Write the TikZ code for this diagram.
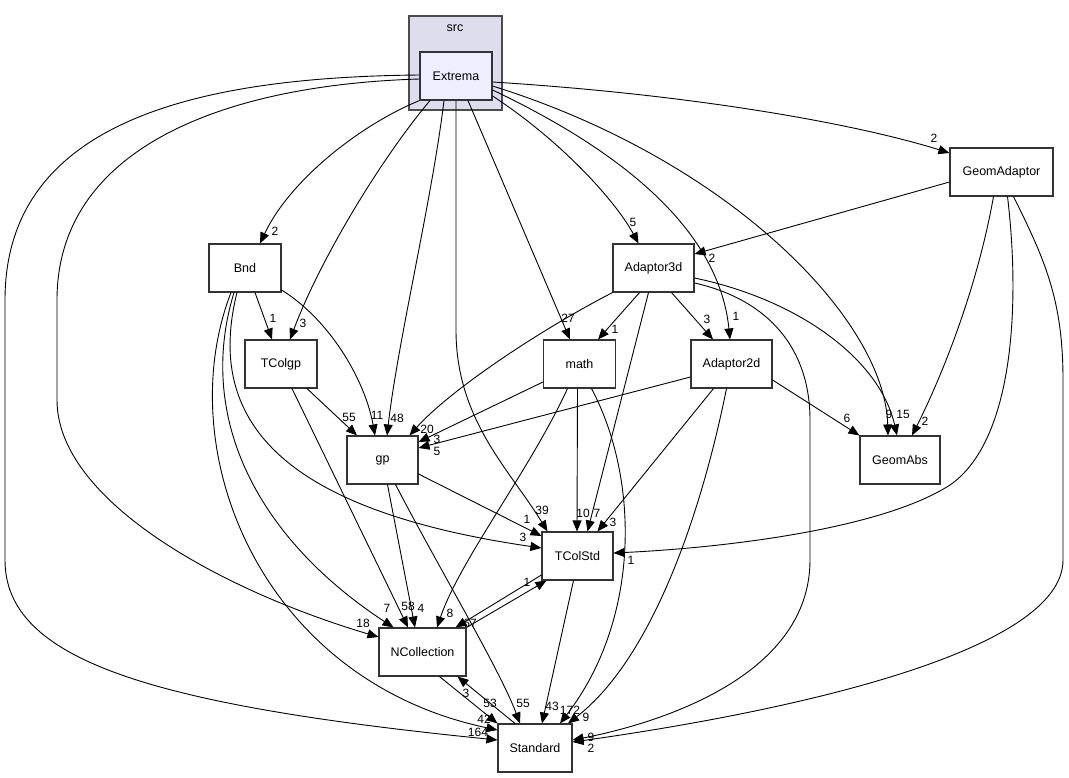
\documentclass[tikz,border=0pt]{standalone}
\usepackage{fontspec}
\setmainfont{Liberation Sans}
\usetikzlibrary{arrows.meta}
\definecolor{clusterfill}{RGB}{221,221,238}
\definecolor{extremafill}{RGB}{238,238,255}
\begin{document}
\begin{tikzpicture}[x=1pt,y=-1pt,
  box/.style={draw=black!80, line width=1.1pt, fill=white, minimum height=48pt, inner sep=0pt, font=\fontsize{12.5}{14}\selectfont},
  e/.style={draw=black, line width=0.9pt, -{Triangle[length=11pt,width=9pt]}},
  lab/.style={font=\fontsize{12}{12}\selectfont, inner sep=0pt}]
\fill[white] (0,0) rectangle (1069,777);
\useasboundingbox (0,0) rectangle (1069,777);

% cluster
\node[draw=black!70, line width=1.1pt, fill=clusterfill, minimum width=93pt, minimum height=94pt, inner sep=0pt] (src) at (455.5,63) {};
\node[lab, font=\fontsize{12.5}{14}\selectfont] (srclab) at (455,28) {src};

% nodes
\node[box, fill=extremafill, minimum width=72pt] (Extrema) at (456,76) {Extrema};
\node[box, minimum width=103pt] (GeomAdaptor) at (1001.5,172) {GeomAdaptor};
\node[box, minimum width=72pt] (Bnd) at (245,268) {Bnd};
\node[box, minimum width=81pt] (Adaptor3d) at (653.5,268) {Adaptor3d};
\node[box, minimum width=72pt] (TColgp) at (281,364) {TColgp};
\node[box, minimum width=72pt] (math) at (579.5,364) {math};
\node[box, minimum width=81pt] (Adaptor2d) at (731.5,364) {Adaptor2d};
\node[box, minimum width=71pt] (gp) at (382.5,460) {gp};
\node[box, minimum width=80pt] (GeomAbs) at (900,460) {GeomAbs};
\node[box, minimum width=71pt] (TColStd) at (577.5,556) {TColStd};
\node[box, minimum width=87pt] (NCollection) at (422.5,652) {NCollection};
\node[box, minimum width=74pt] (Standard) at (535,748) {Standard};

% Extrema edges
\draw[e] ([yshift=1pt]Extrema.west) .. controls (200,77) and (5,120) .. (5,300) -- (5,560) .. controls (5,660) and (150,705) .. ([yshift=8pt]Standard.west);
\draw[e] ([yshift=-3pt]Extrema.west) .. controls (220,85) and (57,150) .. (57,300) -- (57,400) .. controls (57,500) and (220,590) .. ([yshift=15pt]NCollection.west);
\draw[e] (Extrema.south west) .. controls (360,125) and (290,180) .. ([xshift=15pt]Bnd.north);
\draw[e] ([xshift=-26pt]Extrema.south) .. controls (380,160) and (320,260) .. ([xshift=9pt]TColgp.north);
\draw[e] ([xshift=-12pt]Extrema.south) .. controls (432,200) and (398,340) .. ([xshift=4.5pt]gp.north);
\draw[e] (Extrema.south) -- (456,330) .. controls (456,420) and (510,470) .. ([xshift=-30pt]TColStd.north);
\draw[e] ([xshift=12pt]Extrema.south) -- ([xshift=-9.5pt]math.north);
\draw[e] ([yshift=-20pt]Extrema.east) .. controls (560,140) and (615,200) .. ([xshift=-15pt]Adaptor3d.north);
\draw[e] ([yshift=-14pt]Extrema.east) .. controls (640,160) and (720,240) .. ([xshift=-1.5pt]Adaptor2d.north);
\draw[e] ([yshift=-10pt]Extrema.east) .. controls (730,160) and (885,320) .. ([xshift=-12pt]GeomAbs.north);
\draw[e] ([yshift=-6pt]Extrema.east) .. controls (700,95) and (860,125) .. ([yshift=19pt]GeomAdaptor.west);

% GeomAdaptor edges
\draw[e] ([yshift=-10pt]GeomAdaptor.west) -- ([yshift=14pt]Adaptor3d.east);
\draw[e] ([xshift=-8pt]GeomAdaptor.south) .. controls (975,300) and (935,390) .. ([xshift=12pt]GeomAbs.north);
\draw[e] ([xshift=6pt]GeomAdaptor.south) .. controls (1020,300) and (1015,440) .. (950,485) .. controls (880,530) and (720,548) .. ([yshift=3pt]TColStd.east);
\draw[e] ([xshift=12pt]GeomAdaptor.south) .. controls (1045,260) and (1063,300) .. (1063,380) -- (1063,560) .. controls (1063,650) and (800,710) .. ([yshift=6pt]Standard.east);

% Adaptor3d edges
\draw[e] (Adaptor3d.south west) .. controls (540,330) and (450,390) .. ([xshift=27pt]gp.north);
\draw[e] ([xshift=-14pt]Adaptor3d.south) -- ([xshift=18.5pt]math.north);
\draw[e] ([xshift=-5pt]Adaptor3d.south) -- ([xshift=10pt]TColStd.north);
\draw[e] ([xshift=18pt]Adaptor3d.south) -- ([xshift=-18.5pt]Adaptor2d.north);
\draw[e] ([yshift=-10pt]Adaptor3d.east) .. controls (800,300) and (880,360) .. ([xshift=-3pt]GeomAbs.north);
\draw[e] ([yshift=-15pt]Adaptor3d.east) .. controls (770,300) and (810,350) .. (810,420) -- (810,560) .. controls (810,680) and (650,725) .. ([yshift=8pt]Standard.east);

% math edges
\draw[e] ([yshift=-18pt]math.west) -- ([yshift=18pt]gp.east);
\draw[e] ([xshift=-2pt]math.south) -- ([xshift=-0.5pt]TColStd.north);
\draw[e] ([xshift=-12pt]math.south) .. controls (530,470) and (460,560) .. ([xshift=14.5pt]NCollection.north);
\draw[e] ([xshift=12pt]math.south) .. controls (640,480) and (640,620) .. ([xshift=25pt]Standard.north);

% Adaptor2d edges
\draw[e] ([yshift=-13pt]Adaptor2d.west) -- ([yshift=12pt]gp.east);
\draw[e] ([yshift=-16pt]Adaptor2d.east) -- (GeomAbs.north west);
\draw[e] ([xshift=-18pt]Adaptor2d.south) -- ([xshift=20pt]TColStd.north);
\draw[e] ([xshift=-5pt]Adaptor2d.south) .. controls (700,520) and (650,660) .. ([xshift=33pt]Standard.north);

% Bnd edges
\draw[e] ([xshift=10pt]Bnd.south) -- ([xshift=-9pt]TColgp.north);
\draw[e] ([yshift=-22pt]Bnd.east) .. controls (330,320) and (365,380) .. ([xshift=-7.5pt]gp.north);
\draw[e] ([xshift=-8pt]Bnd.south) .. controls (205,420) and (280,510) .. ([yshift=8pt]TColStd.west);
\draw[e] ([xshift=-11pt]Bnd.south) .. controls (195,420) and (260,540) .. ([xshift=-29pt]NCollection.north);
\draw[e] ([xshift=-14pt]Bnd.south) .. controls (170,450) and (260,680) .. ([yshift=18pt]Standard.west);

% TColgp edges
\draw[e] ([xshift=26pt]TColgp.south) -- ([xshift=-25.5pt]gp.north);
\draw[e] ([xshift=11pt]TColgp.south) -- ([xshift=-14.5pt]NCollection.north);

% gp edges
\draw[e] ([yshift=-14pt]gp.east) -- ([yshift=20pt]TColStd.west);
\draw[e] ([xshift=5pt]gp.south) -- ([xshift=-7.5pt]NCollection.north);
\draw[e] ([xshift=13pt]gp.south) .. controls (440,570) and (500,670) .. ([xshift=-15pt]Standard.north);

% TColStd / NCollection / Standard
\draw[e] ([yshift=-19pt]TColStd.west) -- ([xshift=-11pt]NCollection.north east);
\draw[e] (NCollection.north east) -- ([xshift=5pt]TColStd.south west);
\draw[e] ([xshift=-4pt]TColStd.south) -- ([xshift=7pt]Standard.north);
\draw[e] ([xshift=17pt]NCollection.south) -- (Standard.north west);
\draw[e] ([xshift=-20pt]Standard.north) -- ([xshift=35pt]NCollection.south);

% labels
\node[lab] (l1) at (478,732) {164};
\node[lab] (l2) at (363,623) {18};
\node[lab] (l3) at (275,231) {2};
\node[lab] (l4) at (303,323) {3};
\node[lab] (l5) at (397,418) {48};
\node[lab] (l6) at (542,510) {39};
\node[lab] (l7) at (568,318) {27};
\node[lab] (l8) at (633,222) {5};
\node[lab] (l9) at (736,316) {1};
\node[lab] (l10) at (889,414) {9};
\node[lab] (l11) at (934,138) {2};
\node[lab] (l12) at (712,258) {2};
\node[lab] (l13) at (925,421) {2};
\node[lab] (l14) at (631,560) {1};
\node[lab] (l15) at (591,748) {2};
\node[lab] (l16) at (427,429) {20};
\node[lab] (l17) at (615,329) {1};
\node[lab] (l18) at (597,513) {7};
\node[lab] (l19) at (707,319) {3};
\node[lab] (l20) at (903,414) {15};
\node[lab] (l21) at (591,737) {9};
\node[lab] (l22) at (437,439) {3};
\node[lab] (l23) at (583,513) {10};
\node[lab] (l24) at (450,613) {8};
\node[lab] (l25) at (570,710) {172};
\node[lab] (l26) at (437,451) {5};
\node[lab] (l27) at (847,418) {6};
\node[lab] (l28) at (613,522) {3};
\node[lab] (l29) at (586,717) {9};
\node[lab] (l30) at (273,318) {1};
\node[lab] (l31) at (377,415) {11};
\node[lab] (l32) at (523,537) {3};
\node[lab] (l33) at (387,608) {7};
\node[lab] (l34) at (484,719) {42};
\node[lab] (l35) at (349,417) {55};
\node[lab] (l36) at (408,606) {58};
\node[lab] (l37) at (527,519) {1};
\node[lab] (l38) at (421,608) {4};
\node[lab] (l39) at (523,703) {55};
\node[lab] (l40) at (470,623) {67};
\node[lab] (l41) at (552,706) {43};
\node[lab] (l42) at (527,582) {1};
\node[lab] (l43) at (490,703) {53};
\node[lab] (l44) at (466,693) {3};
\end{tikzpicture}
\end{document}
